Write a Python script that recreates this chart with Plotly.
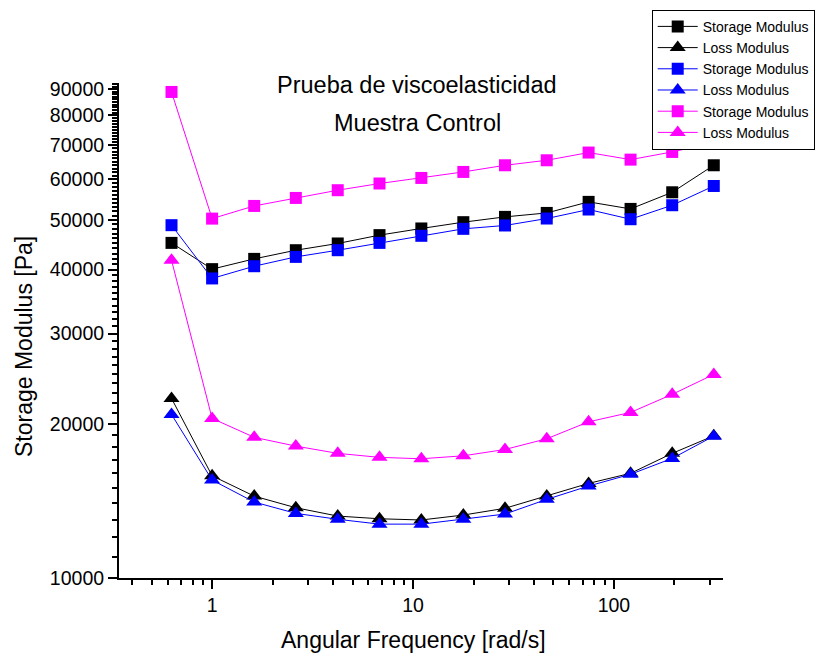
import plotly.graph_objects as go

# Angular frequency sweep (rad/s)
freq = [0.628, 1.0, 1.62, 2.61, 4.22, 6.81, 11.0, 17.8, 28.7, 46.3, 74.8, 121, 195, 314]

# Sample 1 (black)
g1_storage = [45100, 40080, 41970, 43640, 44980, 46700, 48120, 49500, 50690, 51600, 54230, 52540, 56620, 63930]
g1_loss = [22420, 15830, 14450, 13715, 13210, 13050, 12980, 13270, 13680, 14450, 15300, 16010, 17510, 18950]

# Sample 2 (blue)
g2_storage = [48840, 38440, 40610, 42350, 43640, 45100, 46560, 48040, 48770, 50320, 52400, 50160, 53420, 58250]
g2_loss = [20860, 15530, 14070, 13370, 13020, 12740, 12740, 13020, 13330, 14240, 15120, 15940, 17120, 18920]

# Sample 3 (magenta)
g3_storage = [88880, 50300, 53250, 55200, 57150, 58900, 60390, 62040, 63930, 65380, 67690, 65570, 67880, 70790]
g3_loss = [41730, 20490, 18820, 18090, 17510, 17200, 17090, 17320, 17820, 18700, 20180, 21050, 22830, 24970]

y_major = [10000, 20000, 30000, 40000, 50000, 60000, 70000, 80000, 90000]
y_minor = [v for v in range(11000, 93000, 1000) if v % 10000]
x_major = [1, 10, 100]
x_minor = [0.4, 0.5, 0.6, 0.7, 0.8, 0.9, 2, 3, 4, 5, 6, 7, 8, 9,
           20, 30, 40, 50, 60, 70, 80, 90, 200, 300]

FONT = "Arial, Liberation Sans, sans-serif"

series = [
    ("Storage Modulus", g1_storage, "#000000", "square"),
    ("Loss Modulus", g1_loss, "#000000", "triangle-up"),
    ("Storage Modulus", g2_storage, "#0000FF", "square"),
    ("Loss Modulus", g2_loss, "#0000FF", "triangle-up"),
    ("Storage Modulus", g3_storage, "#FF00FF", "square"),
    ("Loss Modulus", g3_loss, "#FF00FF", "triangle-up"),
]

fig = go.Figure()
for name, vals, color, sym in series:
    fig.add_trace(go.Scatter(
        x=freq, y=vals, name=name, mode="lines+markers",
        line=dict(color=color, width=1),
        marker=dict(color=color, symbol=sym, size=12 if sym == "square" else 14,
                    line=dict(width=0)),
    ))

fig.update_layout(
    width=826, height=653,
    margin=dict(l=119, r=103, t=83, b=75, autoexpand=False),
    paper_bgcolor="white", plot_bgcolor="white",
    font=dict(family=FONT, color="black"),
    showlegend=True,
    legend=dict(
        xref="container", yref="container",
        x=0.789, y=0.985, xanchor="left", yanchor="top",
        bgcolor="white", bordercolor="black", borderwidth=1,
        font=dict(family=FONT, size=14, color="black"),
        tracegroupgap=0, itemwidth=40,
    ),
    xaxis=dict(
        type="log", range=[-0.4634, 2.5428],
        tickmode="array", tickvals=x_major, ticktext=[str(v) for v in x_major],
        ticks="outside", ticklen=9, tickwidth=2, tickcolor="black",
        showline=True, linecolor="black", linewidth=2,
        showgrid=False, zeroline=False,
        tickfont=dict(family=FONT, size=19.5, color="black"),
        minor=dict(tickmode="array", tickvals=x_minor, ticks="outside",
                   ticklen=5, tickwidth=1.5, tickcolor="black", showgrid=False),
    ),
    yaxis=dict(
        type="log", range=[4.0, 4.9663],
        tickmode="array", tickvals=y_major, ticktext=[str(v) for v in y_major],
        ticks="outside", ticklen=9, tickwidth=2, tickcolor="black",
        showline=True, linecolor="black", linewidth=2,
        showgrid=False, zeroline=False,
        tickfont=dict(family=FONT, size=19.5, color="black"),
        minor=dict(tickmode="array", tickvals=y_minor, ticks="outside",
                   ticklen=5, tickwidth=1.5, tickcolor="black", showgrid=False),
    ),
    annotations=[
        dict(text="Prueba de viscoelasticidad", x=0.4934, y=0.996,
             xref="paper", yref="paper", xanchor="center", yanchor="middle",
             showarrow=False, font=dict(family=FONT, size=23.5, color="black")),
        dict(text="Muestra Control", x=0.4934, y=0.919,
             xref="paper", yref="paper", xanchor="center", yanchor="middle",
             showarrow=False, font=dict(family=FONT, size=23.5, color="black")),
        dict(text="Angular Frequency [rad/s]", x=0.488, y=-0.125,
             xref="paper", yref="paper", xanchor="center", yanchor="middle",
             showarrow=False, font=dict(family=FONT, size=23, color="black")),
        dict(text="Storage Modulus [Pa]", x=-0.1573, y=0.4687, textangle=-90,
             xref="paper", yref="paper", xanchor="center", yanchor="middle",
             showarrow=False, font=dict(family=FONT, size=23, color="black")),
    ],
)

fig.write_html("out.html")
